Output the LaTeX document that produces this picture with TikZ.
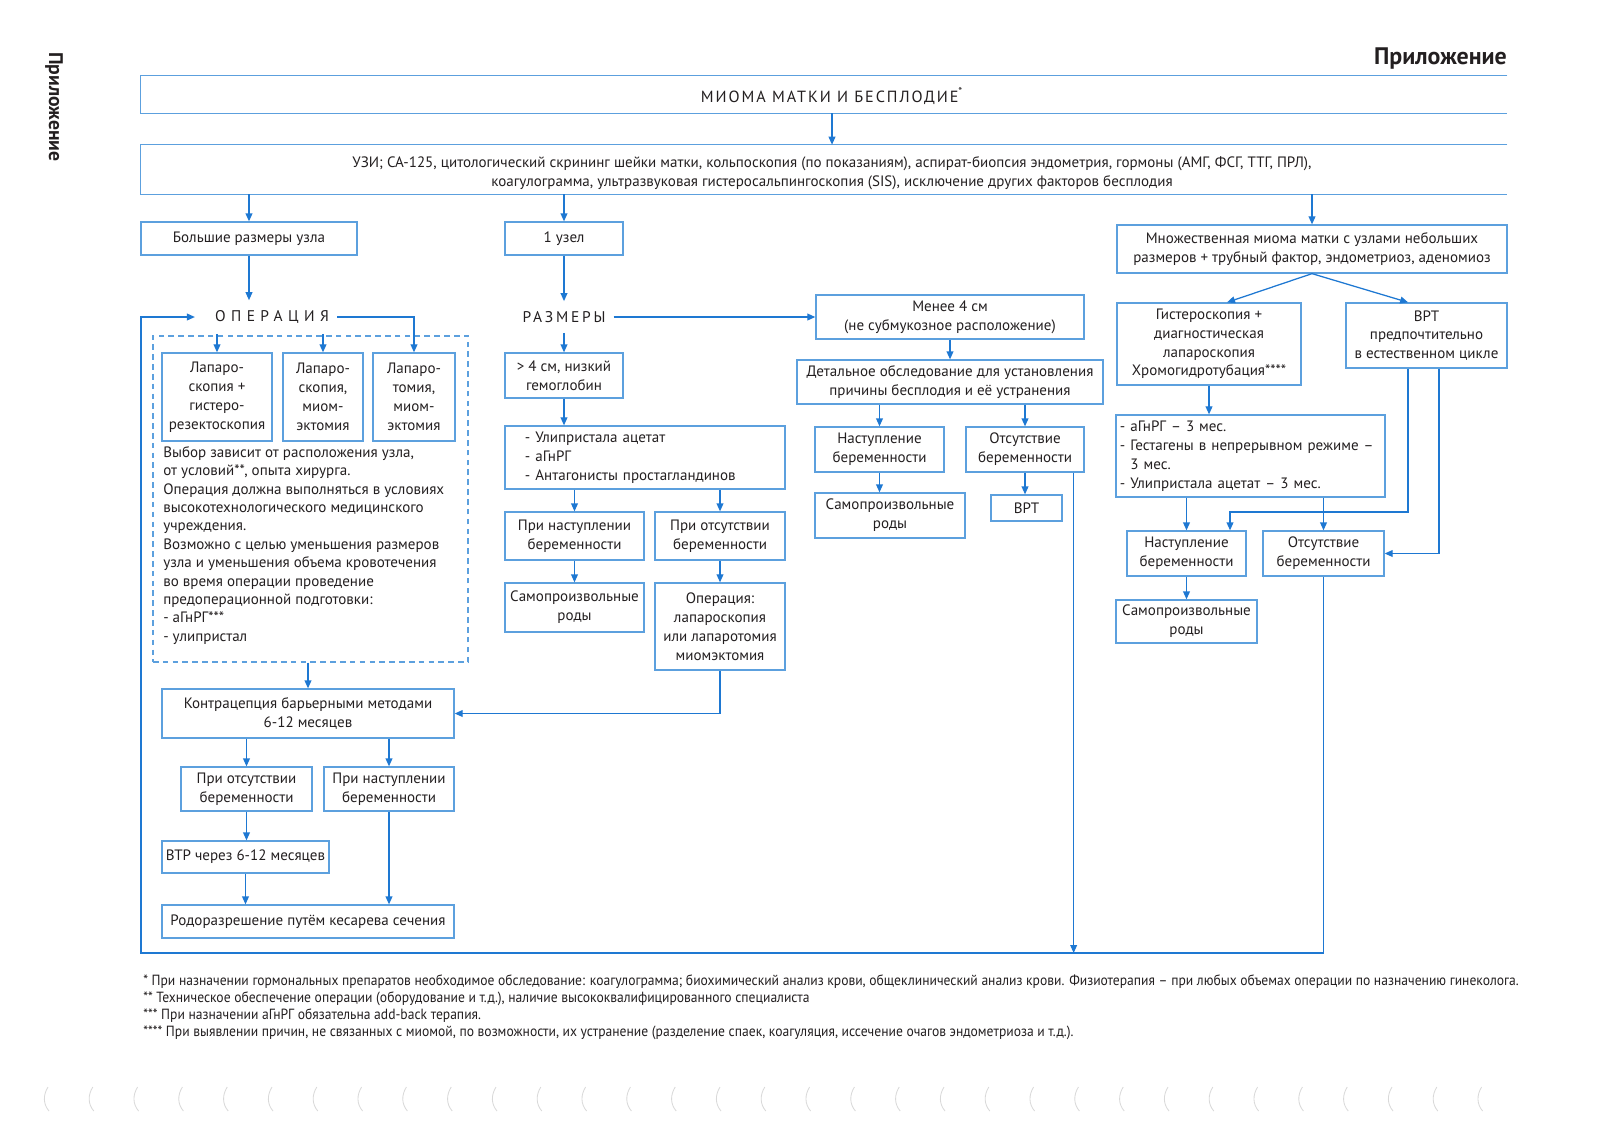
\documentclass[tikz,border=0pt]{standalone}
\usepackage{fontspec}
\setmainfont{PT Sans}
\newfontfamily\footfont[FakeStretch=0.92]{PT Sans}
\usetikzlibrary{arrows.meta,positioning,calc}
\definecolor{boxblue}{RGB}{92,160,222}
\definecolor{lineblue}{RGB}{30,120,210}
\definecolor{inkgray}{RGB}{35,31,32}

\begin{document}
\begin{tikzpicture}[x=0.025cm, y=-0.025cm,
    font=\fontsize{10.7}{13.4}\selectfont, text=inkgray,
    box/.style={draw=boxblue, line width=0.9pt, align=center, inner sep=2pt},
    dashbox/.style={draw=boxblue, line width=0.9pt, dash pattern=on 4pt off 3pt},
    frame/.style={draw=boxblue, line width=0.9pt},
    band/.style={minimum width=34.15cm, inner sep=0pt},
    caps/.style={inner xsep=0.2cm, inner ysep=0.25cm},
    arrow/.style={-{Triangle[length=2mm,width=1.7mm]}, line width=0.9pt, draw=lineblue}
]
\useasboundingbox (0,0) rectangle (1601,1132);

% page headers
\node[font=\bfseries\fontsize{17}{20}\selectfont, anchor=base east, inner sep=0pt] (head) at (1507,64) {Приложение};
\node[font=\bfseries\fontsize{14}{16}\selectfont, rotate=-90, inner sep=0pt] (side) at (54,107) {Приложение};

% open frames at the top
\node[band, minimum height=0.925cm] (titlebox) at (824,94.5) {};
\node[band, minimum height=1.225cm] (testsbox) at (824,169.5) {};
\draw[frame] (titlebox.north east) -- (titlebox.north west) -- (titlebox.south west) -- (titlebox.south east);
\draw[frame] (testsbox.north east) -- (testsbox.north west) -- (testsbox.south west) -- (testsbox.south east);
\node[inner sep=0pt, font=\addfontfeatures{LetterSpace=12}\fontsize{11.5}{13}\selectfont] (title) at (832,96) {МИОМА МАТКИ И БЕСПЛОДИЕ\textsuperscript{*}};
\node[inner sep=0pt, align=center] (tests) at (832,173.5) {УЗИ; СА-125, цитологический скрининг шейки матки, кольпоскопия (по показаниям), аспират-биопсия эндометрия, гормоны (АМГ, ФСГ, ТТГ, ПРЛ),\\коагулограмма, ультразвуковая гистеросальпингоскопия (SIS), исключение других факторов бесплодия};

% first row
\node[box, minimum width=5.4cm, minimum height=0.825cm] (large) at (249,238.5) {Большие размеры узла};
\node[box, minimum width=2.95cm, minimum height=0.825cm] (single) at (564,238.5) {1 узел};
\node[box, minimum width=9.75cm, minimum height=1.2cm] (multiple) at (1312,249) {Множественная миома матки с узлами небольших\\размеров + трубный фактор, эндометриоз, аденомиоз};

% left column
\node[caps, font=\addfontfeatures{LetterSpace=35}\fontsize{11}{13}\selectfont] (operation) at (272,317) {ОПЕРАЦИЯ};
\node[dashbox, minimum width=7.875cm, minimum height=8.15cm] (choice) at (310.5,499) {};
\node[box, minimum width=2.75cm, minimum height=2.2cm, inner sep=1pt] (lapone) at (217,397) {Лапаро-\\скопия +\\гистеро-\\резектоскопия};
\node[box, minimum width=2.0cm, minimum height=2.2cm, inner sep=1pt] (laptwo) at (323,397) {Лапаро-\\скопия,\\миом-\\эктомия};
\node[box, minimum width=2.05cm, minimum height=2.2cm, inner sep=1pt] (lapthree) at (414,397) {Лапаро-\\томия,\\миом-\\эктомия};
\node[anchor=north west, align=left, inner sep=0pt, font=\fontsize{10.7}{13.1}\selectfont] (note) at (163,446) {Выбор зависит от расположения узла,\\от условий**, опыта хирурга.\\Операция должна выполняться в условиях\\высокотехнологического медицинского\\учреждения.\\Возможно с целью уменьшения размеров\\узла и уменьшения объема кровотечения\\во время операции проведение\\предоперационной подготовки:\\- аГнРГ***\\- улипристал};
\node[box, minimum width=7.3cm, minimum height=1.225cm] (contra) at (308,713.5) {Контрацепция барьерными методами\\6-12 месяцев};
\node[box, minimum width=3.275cm, minimum height=1.1cm] (noL) at (246.5,789) {При отсутствии\\беременности};
\node[box, minimum width=3.25cm, minimum height=1.1cm] (yesL) at (389,789) {При наступлении\\беременности};
\node[box, minimum width=4.175cm, minimum height=0.8cm] (vtr) at (245.5,857) {ВТР через 6-12 месяцев};
\node[box, minimum width=7.3cm, minimum height=0.825cm] (cs) at (308,921.5) {Родоразрешение путём кесарева сечения};

% middle column
\node[caps, font=\addfontfeatures{LetterSpace=18}\fontsize{11}{13}\selectfont] (sizes) at (564,317) {РАЗМЕРЫ};
\node[box, minimum width=2.95cm, minimum height=1.125cm] (bigfour) at (564,375.5) {> 4 см, низкий\\гемоглобин};
\node[box, minimum height=1.575cm, align=left, text width=6cm, inner xsep=0.5cm] (drugs) at (645,457.5) {- Улипристала ацетат\\- аГнРГ\\- Антагонисты простагландинов};
\node[box, minimum width=3.475cm, minimum height=1.2cm] (yesM) at (574.5,536) {При наступлении\\беременности};
\node[box, minimum width=3.25cm, minimum height=1.2cm] (noM) at (720,536) {При отсутствии\\беременности};
\node[box, minimum width=3.475cm, minimum height=1.225cm] (birthM) at (574.5,607.5) {Самопроизвольные\\роды};
\node[box, minimum width=3.25cm, minimum height=2.175cm] (surg) at (720,626.5) {Операция:\\лапароскопия\\или лапаротомия\\миомэктомия};

\node[box, minimum width=6.7cm, minimum height=1.1cm] (small) at (950,317) {Менее 4 см\\(не субмукозное расположение)};
\node[box, minimum width=7.65cm, minimum height=1.1cm] (exam) at (950,382) {Детальное обследование для установления\\причины бесплодия и её устранения};
\node[box, minimum width=3.225cm, minimum height=1.125cm] (yesR1) at (879.5,449.5) {Наступление\\беременности};
\node[box, minimum width=2.95cm, minimum height=1.125cm] (noR1) at (1025,449.5) {Отсутствие\\беременности};
\node[box, minimum width=3.75cm, minimum height=1.125cm] (birthR1) at (890,515.5) {Самопроизвольные\\роды};
\node[box, minimum width=1.775cm, minimum height=0.65cm] (artA) at (1026.5,508) {ВРТ};

% right column
\node[box, minimum width=4.6cm, minimum height=2.05cm] (hyst) at (1209,344) {Гистероскопия +\\диагностическая\\лапароскопия\\Хромогидротубация****};
\node[box, minimum width=4.025cm, minimum height=1.625cm] (artB) at (1426.5,335.5) {ВРТ\\предпочтительно\\в естественном цикле};
\node[box, minimum height=2.05cm, align=left, text width=6.525cm, inner xsep=0.1cm] (horm) at (1250.5,456) {- аГнРГ – 3 мес.\\\mbox{- Гестагены в непрерывном режиме –}\\\phantom{- }3 мес.\\- Улипристала ацетат – 3 мес.};
\node[box, minimum width=2.975cm, minimum height=1.125cm] (yesR2) at (1186.5,553.5) {Наступление\\беременности};
\node[box, minimum width=3.025cm, minimum height=1.125cm] (noR2) at (1323.5,553.5) {Отсутствие\\беременности};
\node[box, minimum width=3.525cm, minimum height=1.075cm] (birthR2) at (1186.5,621.5) {Самопроизвольные\\роды};

\coordinate (corner) at (141,953);
\coordinate (bend) at (1230,512);

% connectors
\draw[arrow] (titlebox.south -| title) -- (testsbox.north -| title);
\draw[arrow] (testsbox.south -| large) -- (large);
\draw[arrow] (testsbox.south -| single) -- (single);
\draw[arrow] (testsbox.south -| multiple) -- (multiple);

\draw[arrow] (large) -- (large |- operation.north);
\draw[arrow] (lapone |- operation.south) -- (lapone);
\draw[arrow] (laptwo |- operation.south) -- (laptwo);
\draw[arrow] (operation.east) -| (lapthree);
\draw[arrow] (choice.south -| contra) -- (contra);
\draw[arrow] (noL |- contra.south) -- (noL);
\draw[arrow] (yesL |- contra.south) -- (yesL);
\draw[arrow] (noL) -- (noL |- vtr.north);
\draw[arrow] (vtr) -- (vtr |- cs.north);
\draw[arrow] (yesL) -- (yesL |- cs.north);

\draw[arrow] (single) -- (single |- sizes.north);
\draw[arrow] (sizes.east) -- (small);
\draw[arrow] (bigfour |- sizes.south) -- (bigfour);
\draw[arrow] (bigfour) -- (bigfour |- drugs.north);
\draw[arrow] (yesM |- drugs.south) -- (yesM);
\draw[arrow] (noM |- drugs.south) -- (noM);
\draw[arrow] (yesM) -- (birthM);
\draw[arrow] (noM) -- (surg);
\draw[arrow] (surg) |- (contra);

\draw[arrow] (small) -- (exam);
\draw[arrow] (yesR1 |- exam.south) -- (yesR1);
\draw[arrow] (noR1 |- exam.south) -- (noR1);
\draw[arrow] (yesR1) -- (yesR1 |- birthR1.north);
\draw[arrow] (noR1) -- (noR1 |- artA.north);
\draw[arrow] ([xshift=-0.275cm]noR1.south east) -- ([xshift=-0.275cm]noR1.south east |- corner);

\draw[arrow] (multiple.south) -- ([xshift=0.45cm]hyst.north);
\draw[arrow] (multiple.south) -- ([xshift=-0.46cm]artB.north);
\draw[arrow] (hyst) -- (hyst |- horm.north);
\draw[arrow] (yesR2 |- horm.south) -- (yesR2);
\draw[arrow] (noR2 |- horm.south) -- (noR2);
\draw[arrow] (yesR2) -- (birthR2);
\draw[arrow] ([xshift=-0.46cm]artB.south) |- (bend) -- (bend |- yesR2.north);
\draw[arrow] ([xshift=0.3125cm]artB.south) |- (noR2.east);
\draw[arrow] (noR2) |- (corner) |- ([xshift=-0.3cm]operation.west);

% footnotes
\node[anchor=north west, align=left, inner sep=0pt, font=\footfont\fontsize{10.5}{12.1}\selectfont] (notes) at (143,974) {* При назначении гормональных препаратов необходимое обследование: коагулограмма; биохимический анализ крови, общеклинический анализ крови. Физиотерапия – при любых объемах операции по назначению гинеколога.\\** Техническое обеспечение операции (оборудование и т.д.), наличие высококвалифицированного специалиста\\*** При назначении аГнРГ обязательна add-back терапия.\\**** При выявлении причин, не связанных с миомой, по возможности, их устранение (разделение спаек, коагуляция, иссечение очагов эндометриоза и т.д.).};

% binding marks
\foreach \k in {0,...,32}
  \draw[gray!30, line width=0.6pt] ({48+44.8*\k},1087) .. controls ({43+44.8*\k},1095) and ({43+44.8*\k},1104) .. ({49+44.8*\k},1111);
\end{tikzpicture}
\end{document}
